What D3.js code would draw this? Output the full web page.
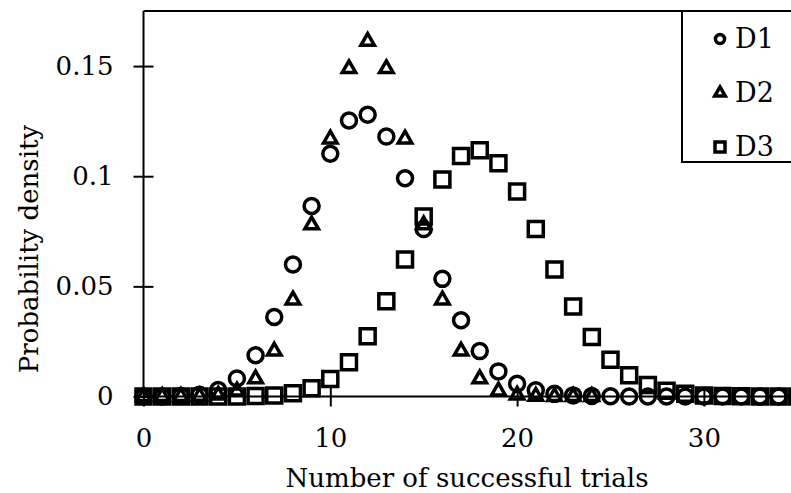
<!DOCTYPE html>
<html>
<head>
<meta charset="utf-8">
<script src="https://cdn.jsdelivr.net/npm/d3@7"></script>
<style>
  body { margin: 0; background: #fff; }
  svg text { font-family: "DejaVu Serif", serif; fill: #000; }
</style>
</head>
<body>
<svg id="chart" width="791" height="493"></svg>
<script>
// number of successful trials (x) and the three distributions
var trialsD1 = d3.range(0, 41);
var trialsD2 = d3.range(0, 25);
var trialsD3 = d3.range(0, 41);

var densityD1 = [0.0000, 0.0000, 0.0002, 0.0008, 0.0029, 0.0082, 0.0187, 0.0361, 0.0599, 0.0865,
                 0.1102, 0.1253, 0.1279, 0.1180, 0.0991, 0.0760, 0.0534, 0.0346, 0.0206, 0.0114,
                 0.0058, 0.0028, 0.0012, 0.0005, 0.0002, 0.0001, 0.0000, 0.0000, 0.0000, 0.0000,
                 0.0000, 0.0000, 0.0000, 0.0000, 0.0000, 0.0000, 0.0000, 0.0000, 0.0000, 0.0000, 0.0000];
var densityD2 = [0.0000, 0.0000, 0.0000, 0.0001, 0.0006, 0.0025, 0.0080, 0.0206, 0.0438, 0.0779,
                 0.1169, 0.1488, 0.1612, 0.1488, 0.1169, 0.0779, 0.0438, 0.0206, 0.0080, 0.0025,
                 0.0006, 0.0001, 0.0000, 0.0000, 0.0000];
var densityD3 = [0.0000, 0.0000, 0.0000, 0.0000, 0.0000, 0.0000, 0.0002, 0.0005, 0.0015, 0.0037,
                 0.0080, 0.0156, 0.0273, 0.0432, 0.0622, 0.0817, 0.0985, 0.1092, 0.1118, 0.1059,
                 0.0931, 0.0760, 0.0577, 0.0409, 0.0270, 0.0167, 0.0096, 0.0052, 0.0026, 0.0012,
                 0.0005, 0.0002, 0.0001, 0.0000, 0.0000, 0.0000, 0.0000, 0.0000, 0.0000, 0.0000, 0.0000];

var seriesNames = ["D1", "D2", "D3"];
var xTicks = [0, 10, 20, 30];
var yTicks = [0, 0.05, 0.1, 0.15];

function drawChart() {

  var svg = d3.select("svg#chart");

  //Plot area (the right edge runs past the picture, as in the original)
  var plotLeft = 143.5, plotRight = 797.3, plotTop = 11, plotBottom = 396.5;

  var x = d3.scaleLinear().domain([0, 35]).range([plotLeft, plotRight]);
  var y = d3.scaleLinear().domain([0, 0.175]).range([plotBottom, plotTop]);

  //Symbol generators for the three series
  var shapes = {
    D1: d3.symbol().type(d3.symbolCircle).size(Math.PI * 7.5 * 7.5),
    D2: d3.symbol().type(d3.symbolTriangle).size(13.5 * 13.5 * Math.sqrt(3) / 4),
    D3: d3.symbol().type(d3.symbolSquare).size(15 * 15)
  };
  var legendShapes = {
    D1: d3.symbol().type(d3.symbolCircle).size(Math.PI * 4.5 * 4.5),
    D2: d3.symbol().type(d3.symbolTriangle).size(10.5 * 10.5 * Math.sqrt(3) / 4),
    D3: d3.symbol().type(d3.symbolSquare).size(10 * 10)
  };

  //Top border of the plot
  svg.append("line")
      .attr("x1", plotLeft).attr("x2", plotRight)
      .attr("y1", plotTop).attr("y2", plotTop)
      .attr("stroke", "#000").attr("stroke-width", 2);

  //Axes, ticks crossing the axis line
  var xAxis = svg.append("g")
      .attr("transform", "translate(0," + plotBottom + ")")
      .call(d3.axisBottom(x).tickValues(xTicks).tickFormat(d3.format("d")).tickSize(0).tickPadding(0));
  xAxis.select(".domain").remove();
  xAxis.append("line")
      .attr("x1", plotLeft).attr("x2", plotRight)
      .attr("stroke", "#000").attr("stroke-width", 2);
  xAxis.selectAll(".tick line")
      .attr("y1", -10).attr("y2", 10)
      .attr("stroke", "#000").attr("stroke-width", 2);
  xAxis.selectAll(".tick text")
      .attr("y", 32).attr("dy", "0.71em")
      .style("font-size", "26px");

  var yAxis = svg.append("g")
      .attr("transform", "translate(" + plotLeft + ",0)")
      .call(d3.axisLeft(y).tickValues(yTicks).tickFormat(d3.format("~g")).tickSize(0).tickPadding(0));
  yAxis.select(".domain").remove();
  yAxis.append("line")
      .attr("y1", plotTop).attr("y2", plotBottom)
      .attr("stroke", "#000").attr("stroke-width", 2);
  yAxis.selectAll(".tick line")
      .attr("x1", -10).attr("x2", 10)
      .attr("stroke", "#000").attr("stroke-width", 2);
  yAxis.selectAll(".tick text")
      .attr("x", -30)
      .style("font-size", "26px");

  //Axis titles
  svg.append("text")
      .attr("x", 467).attr("y", 487)
      .attr("text-anchor", "middle")
      .style("font-size", "26px")
      .text("Number of successful trials");
  svg.append("text")
      .attr("transform", "translate(38,249) rotate(-90)")
      .attr("text-anchor", "middle")
      .style("font-size", "26px")
      .text("Probability density");

  //Markers, hollow, heavy outline
  var series = [
    { name: "D1", xs: trialsD1, ys: densityD1 },
    { name: "D2", xs: trialsD2, ys: densityD2 },
    { name: "D3", xs: trialsD3, ys: densityD3 }
  ];

  series.forEach(function (s) {
    svg.append("g").attr("class", "series " + s.name)
      .selectAll("path")
      .data(s.ys)
      .enter().append("path")
        .attr("transform", function (d, i) { return "translate(" + x(s.xs[i]) + "," + y(d) + ")"; })
        .attr("d", shapes[s.name])
        .attr("fill", "none")
        .attr("stroke", "#000")
        .attr("stroke-width", 3.5)
        .attr("stroke-linejoin", "miter");
  });

  //Legend box in the top right corner
  var legend = svg.append("g");
  legend.append("rect")
      .attr("x", 682).attr("y", 11)
      .attr("width", 130).attr("height", 151)
      .attr("fill", "#fff")
      .attr("stroke", "#000").attr("stroke-width", 2);

  var entries = legend.selectAll(".entry")
      .data(seriesNames)
      .enter().append("g")
        .attr("class", "entry")
        .attr("transform", function (d, i) { return "translate(720," + (39 + i * 54) + ")"; });
  entries.append("path")
      .attr("d", function (d) { return legendShapes[d](); })
      .attr("fill", "none")
      .attr("stroke", "#000")
      .attr("stroke-width", 3.5);
  entries.append("text")
      .attr("x", 15).attr("dy", "0.35em")
      .style("font-size", "27px")
      .text(function (d) { return d; });
}

drawChart();
</script>
</body>
</html>
